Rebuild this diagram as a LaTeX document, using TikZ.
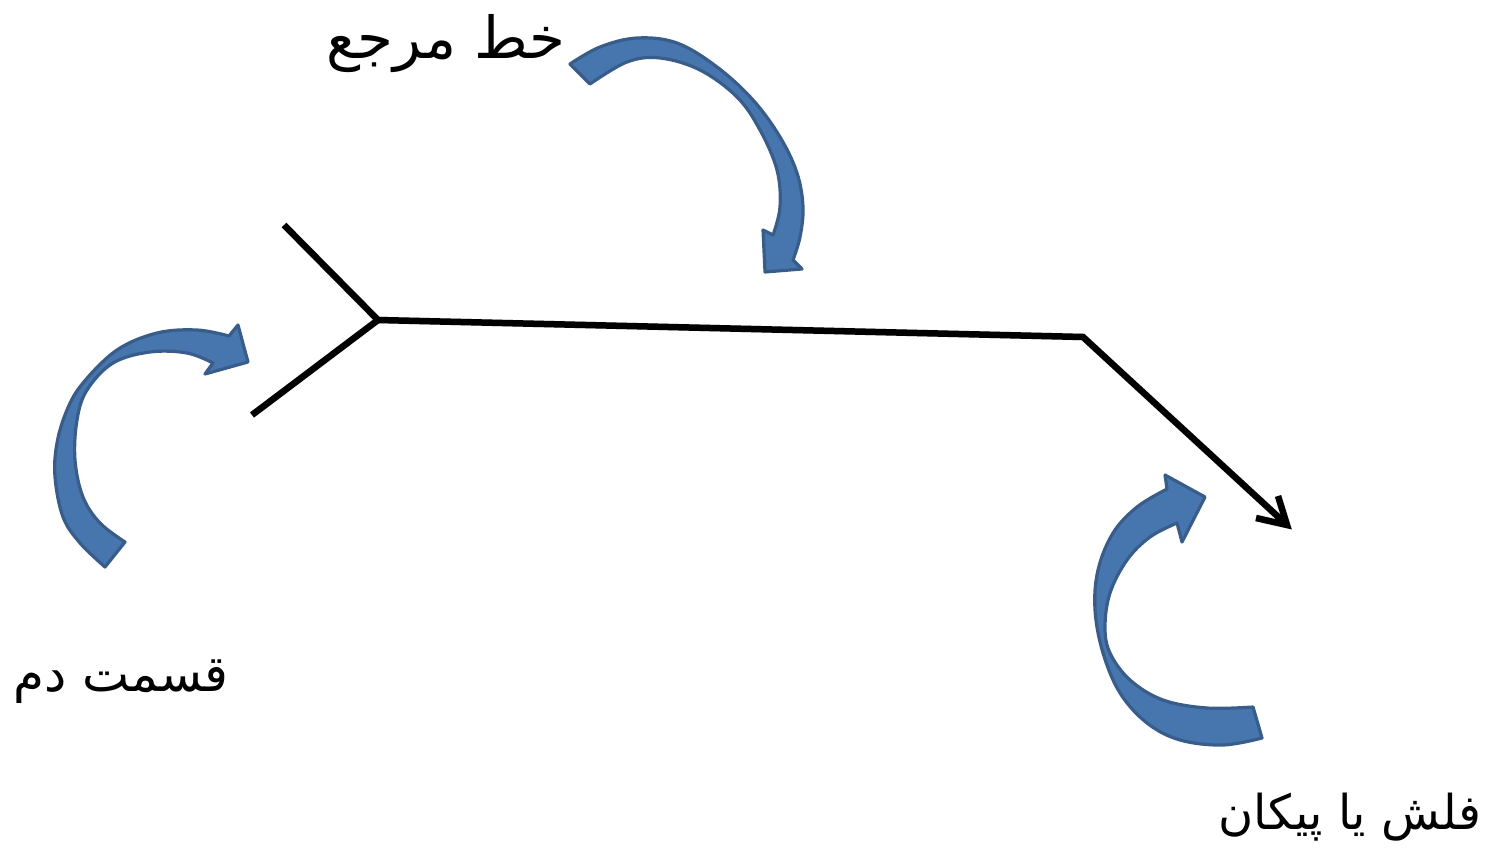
\documentclass[tikz,border=0pt]{standalone}
\usepackage{fontspec}
\newfontfamily\arabicfont[Script=Arabic]{DejaVu Sans}
\TeXXeTstate=1
\definecolor{arrowfill}{HTML}{4775AD}
\definecolor{arrowline}{HTML}{385D8A}
\begin{document}
\begin{tikzpicture}[x=1pt,y=-1pt,
  blockarrow/.style={fill=arrowfill,draw=arrowline,line width=3.2pt,line join=round},
  mainline/.style={line width=6.5pt,black,line join=miter},
  shadowline/.style={line width=7pt,black!12,line join=miter},
  lbl/.style={font=\arabicfont,inner sep=0pt}]
\useasboundingbox (0,0) rectangle (1490,850);
% main line
\coordinate (t1) at (284,225);
\coordinate (v) at (378,320);
\coordinate (t2) at (252,415);
\coordinate (b) at (1083,337);
\coordinate (tip) at (1287,525);
\coordinate (h1) at (1256,518);
\coordinate (h2) at (1278,496);
\begin{scope}[shift={(2,3)}]
\draw[shadowline] (t1) -- (v) -- (t2);
\draw[shadowline] (v) -- (b) -- (tip);
\draw[shadowline] (h1) -- (tip) -- (h2);
\end{scope}
\draw[mainline] (t1) -- (v) -- (t2);
\draw[mainline] (v) -- (b) -- (tip);
\draw[mainline] (h1) -- (tip) -- (h2);
% top curved arrow
\draw[blockarrow] plot[smooth,tension=0.6] coordinates {(570,64) (600,47) (637,38) (677,43) (717,67) (753,100) (780,137) (797,173) (803,207) (800,237) (793,260)}
  -- (802,269) -- (765,272) -- (763,230) -- (773,235)
  -- plot[smooth,tension=0.6] coordinates {(773,235) (780,207) (777,170) (760,130) (737,97) (700,70) (660,58) (627,62) (590,84)} -- cycle;
% left curved arrow
\draw[blockarrow] plot[smooth,tension=0.6] coordinates {(105,567) (80,543) (63,517) (55,477) (57,443) (67,410) (83,383) (117,350) (157,333) (197,330) (229,336)}
  -- (238,325) -- (248,362) -- (205,374) -- (213,363)
  -- plot[smooth,tension=0.6] coordinates {(213,363) (187,353) (150,352) (113,363) (87,390) (77,420) (75,460) (83,497) (100,523) (125,542)} -- cycle;
% right curved arrow
\draw[blockarrow] plot[smooth,tension=0.6] coordinates {(1262,738) (1223,745) (1180,740) (1147,723) (1120,693) (1103,653) (1095,610) (1098,570) (1113,533) (1137,507) (1167,489)}
  -- (1165,475) -- (1205,497) -- (1182,542) -- (1177,523)
  -- plot[smooth,tension=0.6] coordinates {(1177,523) (1150,537) (1127,560) (1110,593) (1105,627) (1110,653) (1130,680) (1163,700) (1207,708) (1253,707)} -- cycle;
% labels
\node[lbl,font=\arabicfont\fontsize{58}{64}\selectfont] (lref) at (446,44) {\beginR خط مرجع\endR};
\node[lbl,font=\arabicfont\fontsize{50}{58}\selectfont] (ltail) at (121,682) {\beginR قسمت دم\endR};
\node[lbl,font=\arabicfont\fontsize{48}{56}\selectfont] (lhead) at (1350,817) {\beginR فلش یا پیکان\endR};
\end{tikzpicture}
\end{document}
